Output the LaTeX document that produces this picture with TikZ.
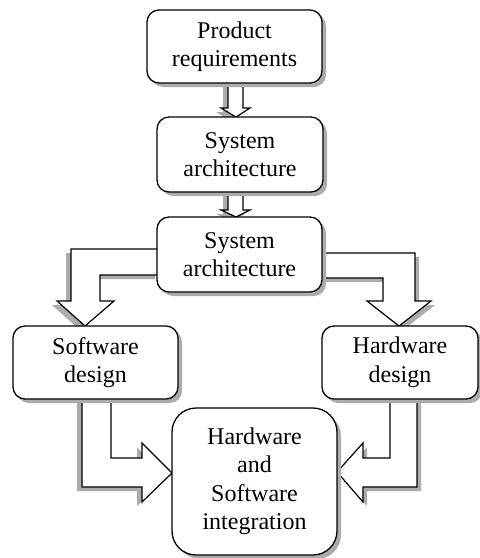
\documentclass[tikz,border=0pt]{standalone}
\usepackage{fontspec}
\setmainfont{Liberation Serif}
\usetikzlibrary{shadows}
\tikzset{
  boxnode/.style={draw=black, fill=white, line width=1.3pt, rounded corners=12pt,
    align=center, inner sep=0pt, font=\fontsize{24}{28.5}\selectfont,
    drop shadow={shadow xshift=4pt, shadow yshift=-4pt, fill=gray!65, opacity=1}},
  blockarrow/.style={draw=black, fill=white, line width=1.2pt, line join=miter},
  lshadow/.style={drop shadow={shadow xshift=-5pt, shadow yshift=-4pt, fill=gray!65, opacity=1}},
  rshadow/.style={drop shadow={shadow xshift=4pt, shadow yshift=-4pt, fill=gray!65, opacity=1}},
}
\begin{document}
\begin{tikzpicture}[x=1pt, y=-1pt]
\useasboundingbox (0,0) rectangle (480,558);
\clip (0,0) rectangle (480,558);

% block arrows (drawn below the boxes)
\draw[blockarrow, lshadow] (228,80) -- (228,108) -- (221,108) -- (236,117) -- (250,108) -- (243,108) -- (243,80) -- cycle;
\draw[blockarrow, lshadow] (228,189) -- (228,210) -- (221,210) -- (236,217) -- (250,210) -- (243,210) -- (243,189) -- cycle;
\draw[blockarrow, lshadow] (160,249) -- (71,249) -- (71,301) -- (57,301) -- (85,326) -- (114,301) -- (100,301) -- (100,275) -- (160,275) -- cycle;
\draw[blockarrow, rshadow] (319,253) -- (415,253) -- (415,301) -- (431,301) -- (399,326) -- (367,301) -- (383,301) -- (383,278) -- (319,278) -- cycle;
\draw[blockarrow, lshadow] (82,396) -- (82,487) -- (142,487) -- (142,502) -- (172,473) -- (142,443) -- (142,458) -- (111,458) -- (111,396) -- cycle;
\draw[blockarrow, rshadow] (417,396) -- (417,487) -- (363,487) -- (363,502) -- (337,472) -- (363,443) -- (363,458) -- (390,458) -- (390,396) -- cycle;

% boxes
\node[boxnode, minimum width=175pt, minimum height=73pt] (pr) at (234.5,46.5) {Product\\requirements};
\node[boxnode, minimum width=166pt, minimum height=75pt] (sa1) at (240,154.5) {System\\architecture};
\node[boxnode, minimum width=165pt, minimum height=75pt] (sa2) at (239.5,254.5) {System\\architecture};
\node[boxnode, minimum width=165pt, minimum height=73pt] (sw) at (95.5,362.5) {Software\\design};
\node[boxnode, minimum width=156pt, minimum height=73pt] (hw) at (400,362.5) {Hardware\\design};
\node[boxnode, rounded corners=24pt, minimum width=165pt, minimum height=147pt] (int) at (254.5,481.5) {Hardware\\and\\Software\\integration};
\end{tikzpicture}
\end{document}
